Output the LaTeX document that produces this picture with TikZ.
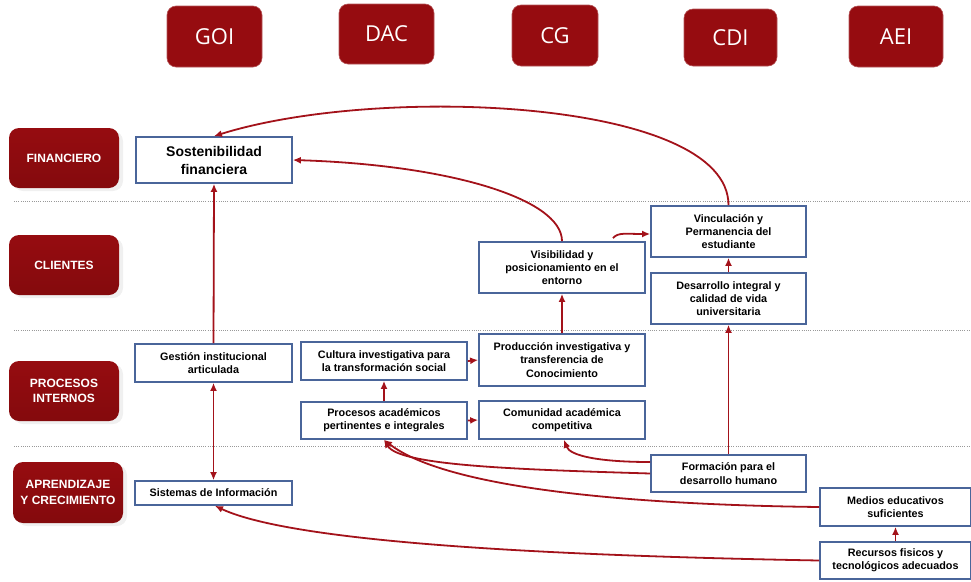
\documentclass[tikz,border=0pt]{standalone}
\usepackage{fontspec}
\setmainfont{Liberation Sans}
\newfontfamily\headfont{Open Sans}
\usetikzlibrary{arrows.meta, shadows}

\definecolor{vino}{HTML}{960C10}
\definecolor{vinodark}{HTML}{840A0D}
\definecolor{borde}{HTML}{4A659A}
\definecolor{flecha}{HTML}{A3121A}

\begin{document}
\begin{tikzpicture}[x=1pt, y=-1pt,
    head/.style={fill=vino, draw=vino!70!white, line width=0.6pt, rounded corners=9pt,
      text=white, inner sep=0pt, font=\headfont\fontsize{22}{26}\selectfont},
    persp/.style={rounded corners=10pt, top color=vino, bottom color=vinodark,
      text=white, align=center, inner sep=0pt, minimum width=110pt, minimum height=60pt,
      font=\bfseries\fontsize{12}{15.5}\selectfont,
      drop shadow={opacity=0.12, shadow xshift=4pt, shadow yshift=-3pt}},
    obj/.style={draw=borde, line width=1.7pt, fill=white, align=center, inner sep=1pt,
      font=\bfseries\fontsize{10.8}{13.3}\selectfont},
    link/.style={draw=flecha, line width=1.8pt, -{Latex[length=8pt,width=7pt]}},
    sep/.style={gray!80, line width=1pt, dash pattern=on 1pt off 1.2pt}]

  \useasboundingbox (0,0) rectangle (971,581);

  % separators
  \draw[sep] (14,201) -- (971,201);
  \draw[sep] (14,330) -- (971,330);
  \draw[sep] (14,446) -- (971,446);

  % column headers
  \node[head, minimum width=95pt, minimum height=61pt] (goi) at (214.5,36.5) {GOI};
  \node[head, minimum width=95pt, minimum height=60pt] (dac) at (386.5,34) {DAC};
  \node[head, minimum width=86pt, minimum height=61pt] (cg)  at (555,35.5)  {CG};
  \node[head, minimum width=93pt, minimum height=57pt] (cdi) at (730.5,37.5) {CDI};
  \node[head, minimum width=94pt, minimum height=61pt] (aei) at (896,36.5)  {AEI};

  % perspectives
  \node[persp] (fin) at (64,158) {FINANCIERO};
  \node[persp] (cli) at (64,265) {CLIENTES};
  \node[persp] (pro) at (64,391) {PROCESOS\\INTERNOS};
  \node[persp, minimum height=61pt] (apr) at (68,492.5) {APRENDIZAJE\\Y CRECIMIENTO};

  % financiero
  \node[obj, minimum width=156pt, minimum height=46pt,
    font=\bfseries\fontsize{14}{18}\selectfont] (sost) at (214,160)
    {Sostenibilidad\\financiera};

  % clientes
  \node[obj, minimum width=166pt, minimum height=51pt] (visi) at (562,267.5)
    {Visibilidad y\\posicionamiento en el\\entorno};
  \node[obj, minimum width=155pt, minimum height=51pt] (vinc) at (728.5,231.5)
    {Vinculación y\\Permanencia del\\estudiante};
  \node[obj, minimum width=155pt, minimum height=51pt] (desa) at (728.5,298.5)
    {Desarrollo integral y\\calidad de vida\\universitaria};

  % procesos internos
  \node[obj, minimum width=157pt, minimum height=38pt] (gest) at (213.5,363)
    {Gestión institucional\\articulada};
  \node[obj, minimum width=166pt, minimum height=38pt] (cult) at (384,361)
    {Cultura investigativa para\\la transformación social};
  \node[obj, minimum width=166pt, minimum height=37pt] (proc) at (384,420.5)
    {Procesos académicos\\pertinentes e integrales};
  \node[obj, minimum width=166pt, minimum height=52pt] (prod) at (562,360)
    {Producción investigativa y\\transferencia de\\Conocimiento};
  \node[obj, minimum width=166pt, minimum height=38pt] (comu) at (562,420)
    {Comunidad académica\\competitiva};

  % aprendizaje y crecimiento
  \node[obj, minimum width=157pt, minimum height=24pt] (sist) at (213.5,493)
    {Sistemas de Información};
  \node[obj, minimum width=155pt, minimum height=37pt] (form) at (728.5,473.5)
    {Formación para el\\desarrollo humano};
  \node[obj, minimum width=151pt, minimum height=38pt] (medi) at (895.5,507)
    {Medios educativos\\suficientes};
  \node[obj, minimum width=151pt, minimum height=37pt] (recu) at (895.5,560.5)
    {Recursos fisicos y\\tecnológicos adecuados};

  % straight links
  \draw[link] (gest.north) -- (sost.south);
  \draw[link, {Latex[length=8pt,width=7pt]}-{Latex[length=8pt,width=7pt]}]
    (gest.south) -- (sist.north);
  \draw[link] (proc.north) -- (cult.south);
  \draw[link] (cult.east) -- (prod.west);
  \draw[link] (proc.east) -- (comu.west);
  \draw[link] (prod.north) -- (visi.south);
  \draw[link] (form.north) -- (desa.south);
  \draw[link] (desa.north) -- (vinc.south);
  \draw[link] (recu.north) -- (medi.south);

  % curved links
  \draw[link] ([xshift=51pt,yshift=3pt]visi.north)
    .. controls +(5,-6) and +(-25,0) .. ([yshift=-2.5pt]vinc.west);
  \draw[link] (vinc.north) .. controls +(0,-106) and +(166,-52) .. (sost.north);
  \draw[link] (visi.north) .. controls +(0,-42) and +(158,5) .. (sost.east);
  \draw[link] ([yshift=11.5pt]form.west)
    .. controls +(-51,0) and +(6,16) .. ([xshift=2pt]comu.south);
  \draw[link] (form.west) .. controls +(-131,-4) and +(16,26) .. (proc.south);
  \draw[link] (medi.west) .. controls +(-170,-2) and +(66,51) .. (proc.south);
  \draw[link] (recu.west) .. controls +(-220,-4) and +(85,40) .. ([xshift=1.5pt]sist.south);

\end{tikzpicture}
\end{document}
